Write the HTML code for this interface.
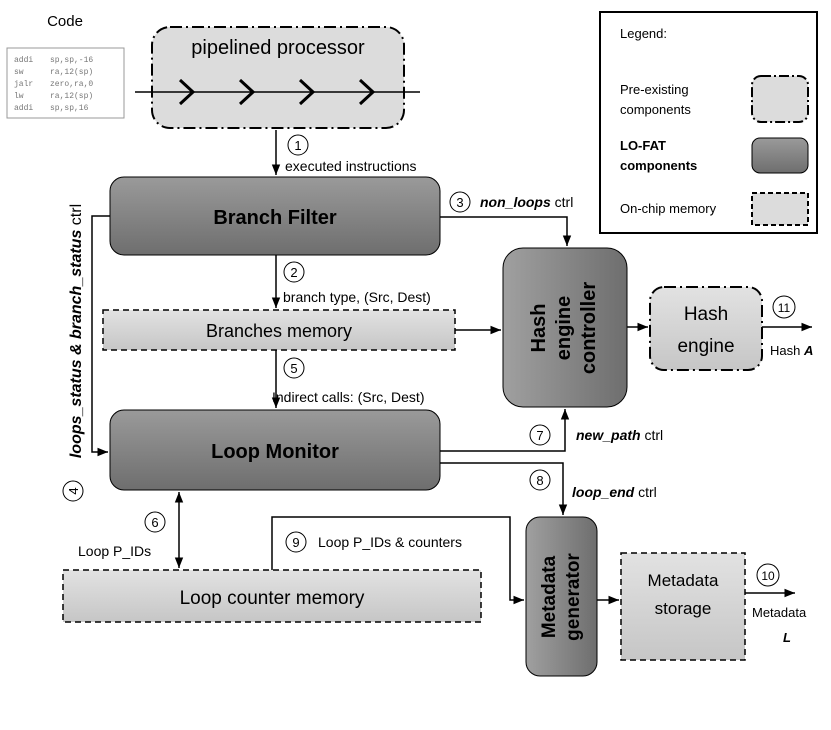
<!DOCTYPE html>
<html><head><meta charset="utf-8"><style>
html,body{margin:0;padding:0;background:#fff;}
svg{display:block;font-family:"Liberation Sans",sans-serif;}
</style></head><body>
<svg width="831" height="730" viewBox="0 0 831 730" xmlns="http://www.w3.org/2000/svg">
<defs>
<linearGradient id="dk" x1="0" y1="0" x2="0" y2="1"><stop offset="0" stop-color="#9a9a9a"/><stop offset="1" stop-color="#6e6e6e"/></linearGradient>
<linearGradient id="dkh" x1="0" y1="0" x2="1" y2="0"><stop offset="0" stop-color="#a0a0a0"/><stop offset="1" stop-color="#6e6e6e"/></linearGradient>
<linearGradient id="lt" x1="0" y1="0" x2="0" y2="1"><stop offset="0" stop-color="#e2e2e2"/><stop offset="1" stop-color="#c6c6c6"/></linearGradient>
<marker id="ar" viewBox="0 0 10 10" refX="10" refY="5" markerWidth="7" markerHeight="7" orient="auto-start-reverse"><path d="M0,1 L10,5 L0,9 z" fill="#000"/></marker>
</defs>
<g fill="none" stroke="#000" stroke-width="1.5">
<rect x="7" y="48" width="117" height="70" stroke="#999" stroke-width="1"/>
<rect x="152" y="27" width="252" height="101" rx="18" fill="#dcdcdc" stroke-dasharray="12,4,2,4" stroke-width="2"/>
<line x1="135" y1="92" x2="420" y2="92"/>
<path d="M180,80 L193,92 L180,104 M240,80 L253,92 L240,104 M300,80 L313,92 L300,104 M360,80 L373,92 L360,104" stroke-width="3"/>
<line x1="276" y1="130" x2="276" y2="175" marker-end="url(#ar)"/>
<line x1="276" y1="255" x2="276" y2="308" marker-end="url(#ar)"/>
<line x1="276" y1="350" x2="276" y2="408" marker-end="url(#ar)"/>
<line x1="455" y1="330" x2="501" y2="330" marker-end="url(#ar)"/>
<polyline points="110,216 92,216 92,452 108,452" marker-end="url(#ar)"/>
<polyline points="440,217 567,217 567,246" marker-end="url(#ar)"/>
<line x1="627" y1="327" x2="648" y2="327" marker-end="url(#ar)"/>
<line x1="762" y1="327" x2="812" y2="327" marker-end="url(#ar)"/>
<polyline points="440,451 565,451 565,409" marker-end="url(#ar)"/>
<polyline points="440,463 563,463 563,515" marker-end="url(#ar)"/>
<line x1="179" y1="492" x2="179" y2="568" marker-start="url(#ar)" marker-end="url(#ar)"/>
<polyline points="272,570 272,517 510,517 510,600 524,600" marker-end="url(#ar)"/>
<line x1="597" y1="600" x2="619" y2="600" marker-end="url(#ar)"/>
<line x1="745" y1="593" x2="795" y2="593" marker-end="url(#ar)"/>
<rect x="110" y="177" width="330" height="78" rx="14" fill="url(#dk)" stroke-width="1"/>
<rect x="103" y="310" width="352" height="40" fill="url(#lt)" stroke-dasharray="6,4"/>
<rect x="110" y="410" width="330" height="80" rx="14" fill="url(#dk)" stroke-width="1"/>
<rect x="503" y="248" width="124" height="159" rx="20" fill="url(#dkh)" stroke-width="1"/>
<rect x="650" y="287" width="112" height="83" rx="14" fill="url(#lt)" stroke-dasharray="12,4,2,4" stroke-width="2"/>
<rect x="63" y="570" width="418" height="52" fill="url(#lt)" stroke-dasharray="6,4"/>
<rect x="526" y="517" width="71" height="159" rx="14" fill="url(#dkh)" stroke-width="1"/>
<rect x="621" y="553" width="124" height="107" fill="url(#lt)" stroke-dasharray="6,4"/>
<rect x="600" y="12" width="217" height="221" stroke-width="2"/>
<rect x="752" y="76" width="56" height="46" rx="9" fill="#dcdcdc" stroke-dasharray="10,3,2,3" stroke-width="2"/>
<rect x="752" y="138" width="56" height="35" rx="8" fill="url(#dk)" stroke-width="1"/>
<rect x="752" y="193" width="56" height="32" fill="#dcdcdc" stroke-dasharray="5,3" stroke-width="2"/>
<g stroke-width="1">
<circle cx="298" cy="145" r="10"/><circle cx="294" cy="272" r="10"/><circle cx="460" cy="202" r="10"/>
<circle cx="294" cy="368" r="10"/><circle cx="540" cy="435" r="10"/><circle cx="540" cy="480" r="10"/>
<circle cx="155" cy="522" r="10"/><circle cx="296" cy="542" r="10"/><circle cx="784" cy="307" r="11"/>
<circle cx="768" cy="575" r="11"/><circle cx="73" cy="491" r="10"/>
</g>
</g>
<g font-size="13" fill="#000" text-anchor="middle">
<text x="298" y="150">1</text><text x="294" y="277">2</text><text x="460" y="207">3</text>
<text x="294" y="373">5</text><text x="540" y="440">7</text><text x="540" y="485">8</text>
<text x="155" y="527">6</text><text x="296" y="547">9</text><text x="784" y="312" font-size="12">11</text>
<text x="768" y="580" font-size="12">10</text>
<text x="73" y="491" transform="rotate(-90 73 491)" dy="5">4</text>
</g>
<g fill="#000">
<text x="65" y="26" font-size="15" text-anchor="middle">Code</text>
<g font-family="Liberation Mono,monospace" font-size="8" fill="#777">
<text x="14" y="62">addi</text><text x="50" y="62">sp,sp,-16</text>
<text x="14" y="74">sw</text><text x="50" y="74">ra,12(sp)</text>
<text x="14" y="86">jalr</text><text x="50" y="86">zero,ra,0</text>
<text x="14" y="98">lw</text><text x="50" y="98">ra,12(sp)</text>
<text x="14" y="110">addi</text><text x="50" y="110">sp,sp,16</text>
</g>
<text x="278" y="54" font-size="20" text-anchor="middle">pipelined processor</text>
<text x="285" y="171" font-size="14">executed instructions</text>
<text x="275" y="224" font-size="20" font-weight="bold" text-anchor="middle">Branch Filter</text>
<text x="480" y="207" font-size="14"><tspan font-weight="bold" font-style="italic">non_loops</tspan> ctrl</text>
<text x="283" y="302" font-size="14">branch type, (Src, Dest)</text>
<text x="279" y="337" font-size="18" text-anchor="middle">Branches memory</text>
<text x="272" y="402" font-size="14">Indirect calls: (Src, Dest)</text>
<text x="275" y="458" font-size="20" font-weight="bold" text-anchor="middle">Loop Monitor</text>
<text x="576" y="440" font-size="14"><tspan font-weight="bold" font-style="italic">new_path</tspan> ctrl</text>
<text x="572" y="497" font-size="14"><tspan font-weight="bold" font-style="italic">loop_end</tspan> ctrl</text>
<text x="78" y="556" font-size="14">Loop P_IDs</text>
<text x="318" y="547" font-size="14">Loop P_IDs &amp; counters</text>
<text x="272" y="604" font-size="19" text-anchor="middle">Loop counter memory</text>
<text x="706" y="320" font-size="19" text-anchor="middle">Hash</text>
<text x="706" y="352" font-size="19" text-anchor="middle">engine</text>
<text x="770" y="355" font-size="13">Hash <tspan font-weight="bold" font-style="italic">A</tspan></text>
<text x="683" y="586" font-size="17" text-anchor="middle">Metadata</text>
<text x="683" y="614" font-size="17" text-anchor="middle">storage</text>
<text x="752" y="617" font-size="13">Metadata</text>
<text x="783" y="642" font-size="13" font-weight="bold" font-style="italic">L</text>
<g font-weight="bold" font-size="20" text-anchor="middle">
<text transform="translate(565 328) rotate(-90)"><tspan x="0" y="-20">Hash</tspan><tspan x="0" y="5">engine</tspan><tspan x="0" y="30">controller</tspan></text>
<text transform="translate(561 597) rotate(-90)" font-size="19"><tspan x="0" y="-6">Metadata</tspan><tspan x="0" y="18">generator</tspan></text>
</g>
<text transform="translate(81 331) rotate(-90)" font-size="16" text-anchor="middle"><tspan font-weight="bold" font-style="italic">loops_status  &amp; branch_status</tspan> ctrl</text>
<g font-size="13">
<text x="620" y="38">Legend:</text>
<text x="620" y="94">Pre-existing</text><text x="620" y="114">components</text>
<text x="620" y="150" font-weight="bold">LO-FAT</text><text x="620" y="170" font-weight="bold">components</text>
<text x="620" y="213">On-chip memory</text>
</g>
</g>
</svg>
</body></html>
